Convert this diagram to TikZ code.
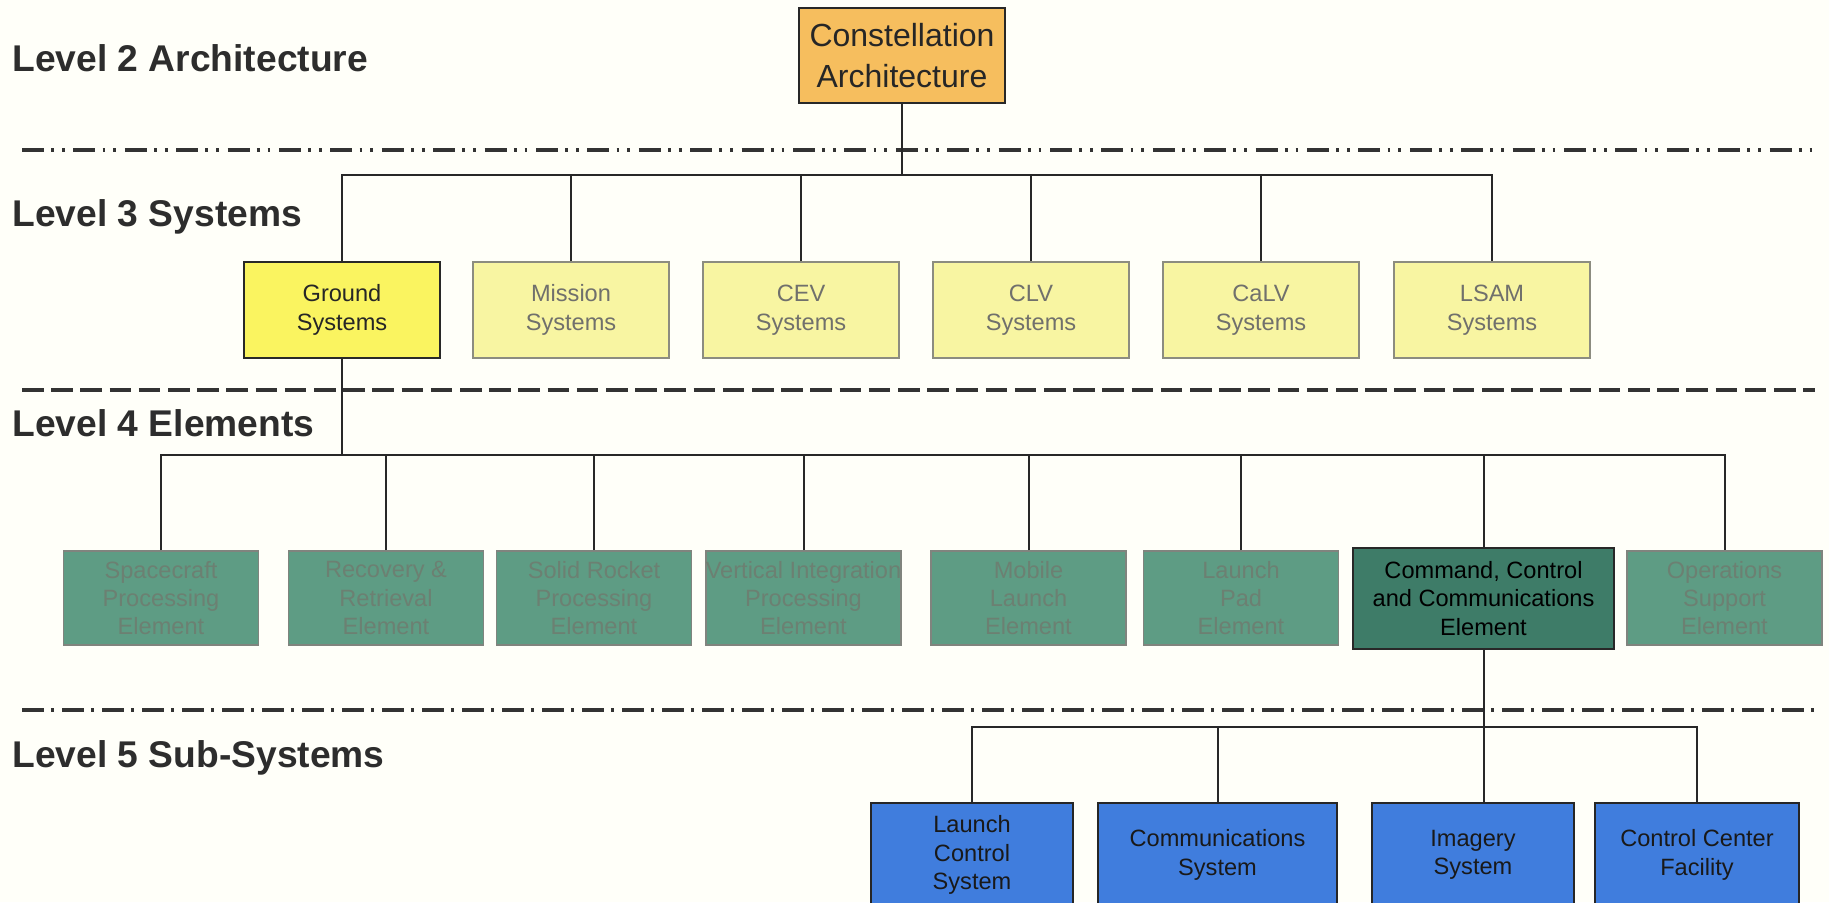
\documentclass[tikz,border=0pt]{standalone}
\usepackage{fontspec}
\setmainfont{Liberation Sans}
\definecolor{bgcol}{RGB}{255,255,249}
\definecolor{orangefill}{RGB}{246,190,94}
\definecolor{groundfill}{RGB}{250,244,96}
\definecolor{palefill}{RGB}{248,245,162}
\definecolor{paletext}{RGB}{112,112,108}
\definecolor{paleborder}{RGB}{140,140,128}
\definecolor{tealfill}{RGB}{94,156,132}
\definecolor{tealtext}{RGB}{108,128,114}
\definecolor{tealborder}{RGB}{128,132,126}
\definecolor{cccfill}{RGB}{62,124,104}
\definecolor{bluefill}{RGB}{64,125,221}
\definecolor{linecol}{RGB}{40,40,40}
\definecolor{labelcol}{RGB}{45,45,45}
\tikzset{
  boxbase/.style={rectangle, align=center, inner sep=0pt, line width=1pt,
    font=\fontsize{11.8}{14.2}\selectfont},
  topbox/.style={boxbase, fill=orangefill, draw=linecol, text=black!85,
    minimum width=103pt, minimum height=47.5pt, font=\fontsize{16}{20.5}\selectfont},
  groundbox/.style={boxbase, fill=groundfill, draw=linecol, text=black!85,
    minimum width=98pt, minimum height=48pt},
  palebox/.style={boxbase, fill=palefill, draw=paleborder, line width=0.8pt, text=paletext,
    minimum width=98pt, minimum height=48pt},
  tealbox/.style={boxbase, fill=tealfill, draw=tealborder, line width=0.8pt, text=tealtext,
    minimum width=97.5pt, minimum height=47pt},
  cccbox/.style={boxbase, fill=cccfill, draw=linecol, text=black,
    minimum width=130.5pt, minimum height=50.5pt},
  bluebox/.style={boxbase, fill=bluefill, draw=black!85, text=black!90,
    minimum height=52pt},
  levellabel/.style={anchor=west, inner sep=0pt, text=labelcol,
    font=\fontsize{18.6}{22}\selectfont\bfseries},
  conn/.style={draw=linecol, line width=1pt},
  sepline/.style={draw=black!80, line width=1.6pt},
}
\begin{document}
\begin{tikzpicture}[x=0.5pt, y=-0.5pt]
\clip (0,0) rectangle (1829,902);
\fill[bgcol] (0,0) rectangle (1829,902);

% level labels
\node[levellabel] (l2) at (12,58) {Level 2 Architecture};
\node[levellabel] (l3) at (12,217) {Level 3 Systems};
\node[levellabel] (l4) at (12,423) {Level 4 Elements};
\node[levellabel] (l5) at (12,758) {Level 5 Sub-Systems};

% separator lines
\draw[sepline, dash pattern=on 11pt off 3.6pt on 1.4pt off 4pt on 1.4pt off 4.3pt] (22,150) -- (1815,150);
\draw[sepline, dash pattern=on 10.8pt off 3.8pt] (22,390) -- (1815,390);
\draw[sepline, dash pattern=on 11pt off 3.4pt on 1.4pt off 4.2pt] (22,710) -- (1815,710);

% level 2
\node[topbox] (con) at (902,55.5) {Constellation\\Architecture};

% level 3
\node[groundbox] (ground) at (342,310) {Ground\\Systems};
\node[palebox] (mission) at (571,310) {Mission\\Systems};
\node[palebox] (cev) at (801,310) {CEV\\Systems};
\node[palebox] (clv) at (1031,310) {CLV\\Systems};
\node[palebox] (calv) at (1261,310) {CaLV\\Systems};
\node[palebox] (lsam) at (1492,310) {LSAM\\Systems};

% level 4
\node[tealbox] (sp) at (161,598) {Spacecraft\\Processing\\Element};
\node[tealbox] (rr) at (386,598) {Recovery \&\\Retrieval\\Element};
\node[tealbox] (srp) at (594,598) {Solid Rocket\\Processing\\Element};
\node[tealbox] (vi) at (803.5,598) {Vertical Integration\\Processing\\Element};
\node[tealbox] (ml) at (1028.5,598) {Mobile\\Launch\\Element};
\node[tealbox] (lp) at (1241,598) {Launch\\Pad\\Element};
\node[cccbox] (ccc) at (1483.5,598.5) {Command, Control\\and Communications\\Element};
\node[tealbox] (ops) at (1724.5,598) {Operations\\Support\\Element};

% level 5
\node[bluebox, minimum width=101pt] (lc) at (972,855) {Launch\\Control\\System};
\node[bluebox, minimum width=119.5pt] (comm) at (1217.5,855) {Communications\\System};
\node[bluebox, minimum width=101pt] (img) at (1473,855) {Imagery\\System};
\node[bluebox, minimum width=102pt] (cc) at (1697,855) {Control Center\\Facility};

% buses
\coordinate (b3) at (902,175);
\coordinate (b4) at (342,455);
\coordinate (b5) at (1483.5,727);

% connectors level 2 -> 3
\draw[conn] (con.south) -- (b3);
\draw[conn] (ground.north) |- (lsam.north |- b3) -- (lsam.north);
\foreach \n in {mission,cev,clv,calv} \draw[conn] (\n.north) -- (\n.north |- b3);

% connectors level 3 -> 4
\draw[conn] (ground.south) -- (b4);
\draw[conn] (sp.north) |- (ops.north |- b4) -- (ops.north);
\foreach \n in {rr,srp,vi,ml,lp,ccc} \draw[conn] (\n.north) -- (\n.north |- b4);

% connectors level 4 -> 5
\draw[conn] (ccc.south) -- (img.north -| ccc.south);
\draw[conn] (lc.north) |- (cc.north |- b5) -- (cc.north);
\draw[conn] (comm.north) -- (comm.north |- b5);
\end{tikzpicture}
\end{document}
